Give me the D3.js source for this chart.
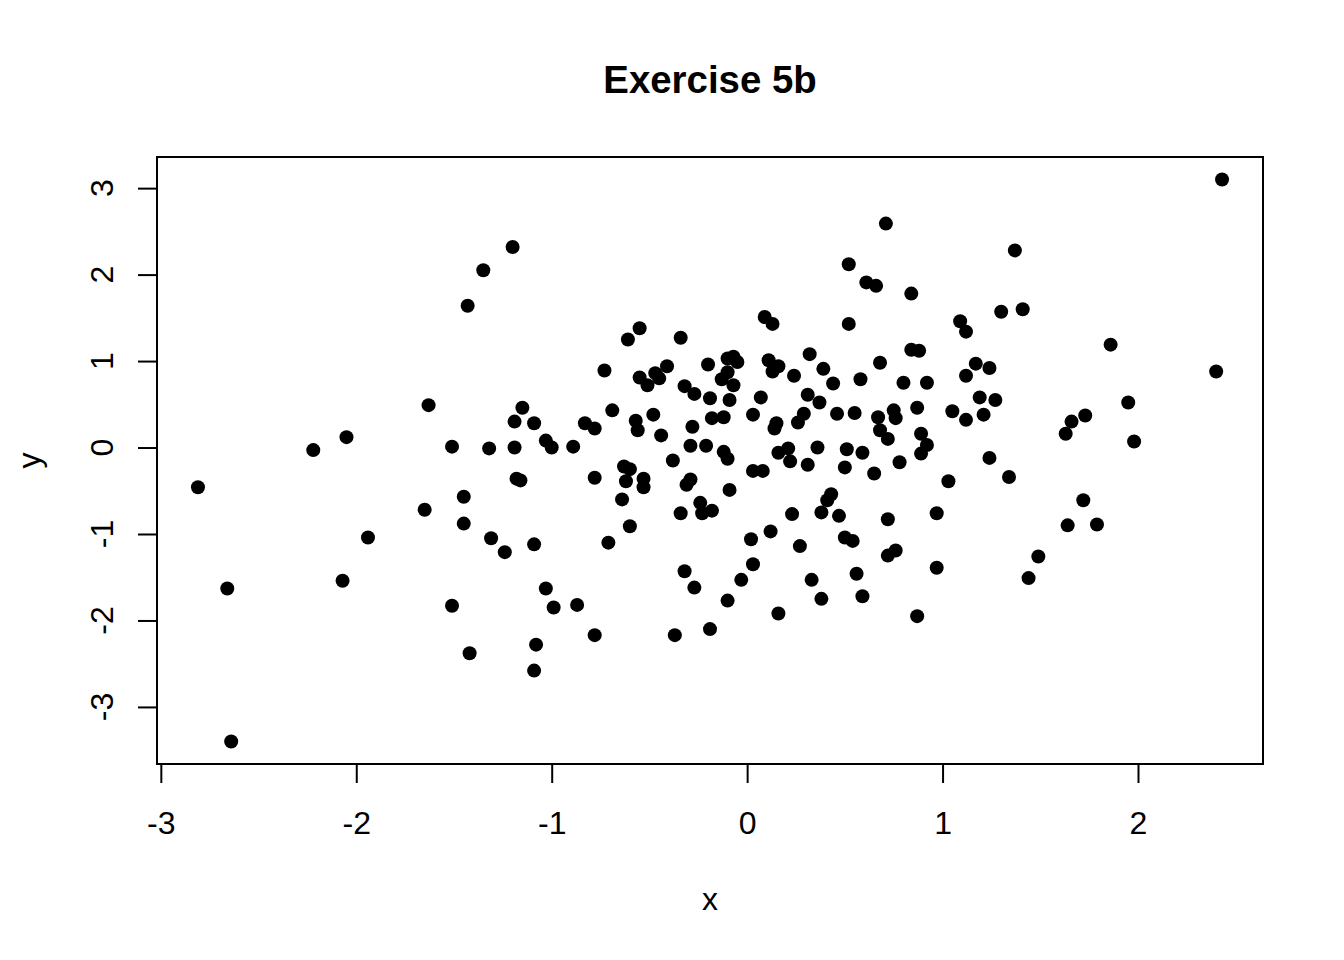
<!DOCTYPE html>
<html>
<head>
<meta charset="utf-8">
<script src="https://cdn.jsdelivr.net/npm/d3@7"></script>
<style>
  body { margin: 0; background: #fff; }
  text { font-family: "Liberation Sans", Arial, sans-serif; fill: #000; }
</style>
</head>
<body>
<svg width="1344" height="960"></svg>
<script>
"use strict";
// values
let xs = [-2.81, -2.66, -2.64, -2.22, -2.05, -2.07, -1.94, -1.65, -1.63, -1.51,
  -1.51, -1.45, -1.45, -1.43, -1.42, -1.35, -1.32, -1.31, -1.24, -1.20,
  -1.19, -1.19, -1.18, -1.16, -1.15, -1.09, -1.09, -1.09, -1.08, -1.03,
  -1.03, -1.00, -0.99, -0.89, -0.87, -0.83, -0.78, -0.78, -0.78, -0.73,
  -0.71, -0.69, -0.55, -0.61, -0.34, -0.55, -0.51, -0.47, -0.45, -0.41,
  -0.32, -0.27, -0.57, -0.56, -0.48, -0.44, -0.28, -0.29, -0.38, -0.63,
  -0.60, -0.62, -0.53, -0.53, -0.29, -0.31, -0.64, -0.34, -0.60, -0.32,
  -0.27, -0.37, 0.09, 0.13, 0.52, -0.10, -0.07, -0.05, -0.20, -0.10,
  -0.13, -0.07, 0.11, 0.16, 0.13, 0.32, 0.24, 0.39, 0.44, -0.19,
  -0.09, 0.07, 0.31, 0.37, 0.29, 0.26, 0.46, 0.03, -0.18, -0.12,
  0.15, 0.14, -0.21, -0.12, -0.10, 0.16, 0.21, 0.22, 0.36, 0.31,
  0.03, 0.08, 0.50, 0.51, -0.09, -0.24, -0.23, -0.18, 0.43, 0.41,
  0.38, 0.47, 0.23, 0.12, 0.02, 0.27, 0.03, -0.03, 0.33, -0.10,
  0.38, 0.16, -0.19, 1.09, 1.12, 0.84, 0.88, 0.68, 1.17, 1.24,
  1.12, 0.58, 0.80, 0.92, 1.19, 1.27, 0.55, 0.75, 0.76, 0.67,
  0.87, 1.05, 1.12, 1.21, 0.68, 0.72, 0.89, 0.92, 0.89, 0.59,
  0.78, 1.24, 0.65, 1.03, 0.72, 0.97, 0.50, 0.54, 0.72, 0.76,
  0.97, 0.56, 0.59, 0.87, 0.52, 0.61, 0.66, 0.71, 0.84, 1.37,
  1.30, 1.41, 2.43, 1.86, 1.34, 1.44, 1.49, 1.64, 1.63, 1.66,
  1.73, 1.72, 1.79, 1.95, 1.98, 2.40];
let ys = [-0.46, -1.63, -3.40, -0.03, 0.12, -1.54, -1.04, -0.72, 0.49, 0.01,
  -1.83, -0.57, -0.88, 1.64, -2.38, 2.05, -0.01, -1.05, -1.21, 2.32,
  0.30, 0.00, -0.36, -0.38, 0.46, 0.28, -1.12, -2.58, -2.28, 0.08,
  -1.63, 0.00, -1.85, 0.01, -1.82, 0.28, 0.22, -0.35, -2.17, 0.89,
  -1.10, 0.43, 1.38, 1.25, 1.27, 0.81, 0.72, 0.86, 0.80, 0.94,
  0.71, 0.62, 0.31, 0.20, 0.38, 0.14, 0.24, 0.02, -0.15, -0.22,
  -0.25, -0.39, -0.36, -0.46, -0.37, -0.43, -0.60, -0.76, -0.91, -1.43,
  -1.62, -2.17, 1.51, 1.43, 1.43, 1.03, 1.05, 0.99, 0.96, 0.87,
  0.79, 0.72, 1.01, 0.94, 0.88, 1.08, 0.83, 0.91, 0.74, 0.57,
  0.55, 0.58, 0.61, 0.52, 0.39, 0.29, 0.39, 0.38, 0.34, 0.35,
  0.28, 0.22, 0.02, -0.05, -0.13, -0.06, -0.01, -0.16, 0.00, -0.20,
  -0.27, -0.27, -0.23, -0.02, -0.49, -0.64, -0.76, -0.73, -0.54, -0.61,
  -0.75, -0.79, -0.77, -0.97, -1.06, -1.14, -1.35, -1.53, -1.53, -1.77,
  -1.75, -1.92, -2.10, 1.46, 1.34, 1.13, 1.12, 0.98, 0.97, 0.92,
  0.83, 0.79, 0.75, 0.75, 0.58, 0.55, 0.40, 0.43, 0.34, 0.35,
  0.46, 0.42, 0.32, 0.38, 0.20, 0.10, 0.16, 0.03, -0.07, -0.06,
  -0.17, -0.12, -0.30, -0.39, -0.83, -0.76, -1.04, -1.08, -1.25, -1.19,
  -1.39, -1.46, -1.72, -1.95, 2.12, 1.91, 1.87, 2.59, 1.78, 2.28,
  1.57, 1.60, 3.10, 1.19, -0.34, -1.51, -1.26, -0.90, 0.16, 0.30,
  0.37, -0.61, -0.89, 0.52, 0.07, 0.88];
let xTicks = [-3, -2, -1, 0, 1, 2];
let yTicks = [-3, -2, -1, 0, 1, 2, 3];

let svg = d3.select("svg"),
    plotL = 157, plotR = 1263, plotT = 157, plotB = 764;

// R style 4% padding on the data range
function padded(v) {
    let e = d3.extent(v), d = (e[1] - e[0]) * 0.04;
    return [e[0] - d, e[1] + d];
}
let x = d3.scaleLinear().domain(padded(xs)).range([plotL, plotR]);
let y = d3.scaleLinear().domain(padded(ys)).range([plotB, plotT]);
let fmt = d => d < 0 ? "-" + Math.abs(d) : "" + d;

svg.append("rect").attr("width", 1344).attr("height", 960).attr("fill", "#fff");

// points
let pts = xs.map((v, i) => ({ x: v, y: ys[i] }));
svg.append("g").selectAll("circle")
    .data(pts)
    .enter().append("circle")
    .attr("cx", d => x(d.x))
    .attr("cy", d => y(d.y))
    .attr("r", 7)
    .attr("fill", "#000");

// box
svg.append("rect")
    .attr("x", plotL).attr("y", plotT)
    .attr("width", plotR - plotL).attr("height", plotB - plotT)
    .attr("fill", "none").attr("stroke", "#000").attr("stroke-width", 2);

// x axis
let xAxis = d3.axisBottom(x).tickValues(xTicks).tickSize(19).tickPadding(28).tickFormat(fmt);
let gx = svg.append("g").attr("transform", "translate(0," + plotB + ")").call(xAxis);
gx.select(".domain").attr("d", "M" + x(xTicks[0]) + ",0H" + x(xTicks[xTicks.length - 1]))
    .attr("stroke-width", 2);
gx.selectAll(".tick line").attr("stroke-width", 2);
gx.selectAll(".tick text").attr("font-size", 32).attr("font-family", "Liberation Sans")
    .attr("fill", "#000");

// y axis, labels turned like base R
let yAxis = d3.axisLeft(y).tickValues(yTicks).tickSize(19).tickFormat("");
let gy = svg.append("g").attr("transform", "translate(" + plotL + ",0)").call(yAxis);
gy.select(".domain").attr("d", "M0," + y(yTicks[0]) + "V" + y(yTicks[yTicks.length - 1]))
    .attr("stroke-width", 2);
gy.selectAll(".tick line").attr("stroke-width", 2);
svg.append("g").selectAll("text")
    .data(yTicks)
    .enter().append("text")
    .attr("transform", d => "translate(113," + y(d) + ") rotate(-90)")
    .attr("text-anchor", "middle")
    .attr("font-size", 32)
    .text(fmt);

// titles
svg.append("text").attr("x", (plotL + plotR) / 2).attr("y", 93)
    .attr("text-anchor", "middle").attr("font-size", 38.4).attr("font-weight", "bold")
    .text("Exercise 5b");
svg.append("text").attr("x", (plotL + plotR) / 2).attr("y", 910)
    .attr("text-anchor", "middle").attr("font-size", 32).text("x");
svg.append("text").attr("transform", "translate(40," + (plotT + plotB) / 2 + ") rotate(-90)")
    .attr("text-anchor", "middle").attr("font-size", 32).text("y");
</script>
</body>
</html>
